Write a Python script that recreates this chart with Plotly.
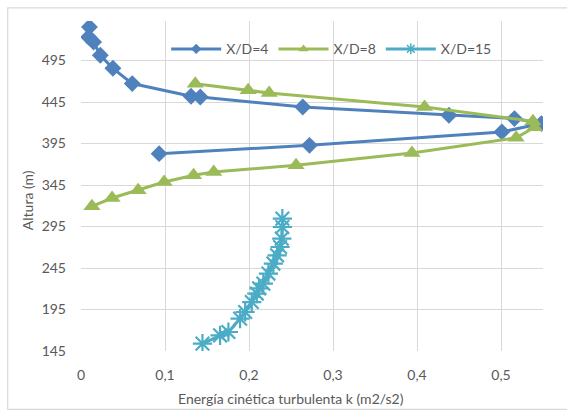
import plotly.graph_objects as go

# ---- data ----
k_xd4 = [0.010, 0.009, 0.015, 0.023, 0.038, 0.061, 0.131, 0.142, 0.264, 0.438,
         0.516, 0.548, 0.501, 0.272, 0.093]
h_xd4 = [535.4, 523.3, 517.3, 501.3, 485.6, 467.2, 451.9, 451.0, 439.0, 429.0,
         425.0, 419.0, 409.0, 392.8, 382.8]

k_xd8 = [0.136, 0.199, 0.224, 0.409, 0.538, 0.540, 0.518, 0.394, 0.256, 0.158,
         0.134, 0.099, 0.068, 0.037, 0.013]
h_xd8 = [467.0, 459.1, 455.8, 439.0, 421.7, 414.5, 401.9, 383.6, 368.7, 360.7,
         356.7, 348.6, 338.6, 329.3, 319.3]

k_xd15 = [0.1446, 0.1656, 0.1755, 0.1894, 0.1954, 0.2033, 0.2093, 0.2120,
          0.2171, 0.2231, 0.2290, 0.2334, 0.2370, 0.2390, 0.2397, 0.2397]
h_xd15 = [153.9, 163.9, 167.9, 184.0, 192.0, 204.0, 214.2, 220.5,
          226.2, 238.3, 250.3, 260.3, 270.3, 280.4, 294.4, 304.5]

series_names = ["X/D=4", "X/D=8", "X/D=15"]
x_ticks = [0, 0.1, 0.2, 0.3, 0.4, 0.5]
y_ticks = [145, 195, 245, 295, 345, 395, 445, 495]
x_title = "Energía cinética turbulenta k (m2/s2)"
y_title = "Altura (m)"

BLUE = "#4f81bd"
GREEN = "#9bbb59"
CYAN = "#4bacc6"
TXT = "#595959"
GRID = "#d9d9d9"
FONT = "Lato"

styles = [
    (k_xd4, h_xd4, BLUE, "diamond", 13, 8, None),
    (k_xd8, h_xd8, GREEN, "triangle-up", 15, 9, None),
    (k_xd15, h_xd15, CYAN, "asterisk-open", 16, 9, 2.2),
]

fig = go.Figure()
for name, (xs, ys, col, sym, sz, lsz, lw) in zip(series_names, styles):
    mk = dict(symbol=sym, size=sz, color=col)
    if lw:
        mk["line"] = dict(color=col, width=lw)
    fig.add_trace(go.Scatter(x=xs, y=ys, name=name, mode="lines+markers",
                             line=dict(color=col, width=3), marker=mk,
                             showlegend=False))
for name, (xs, ys, col, sym, sz, lsz, lw) in zip(series_names, styles):
    mk = dict(symbol=sym, size=lsz, color=col)
    if lw:
        mk["line"] = dict(color=col, width=1.5)
    fig.add_trace(go.Scatter(x=[None], y=[None], name=name, mode="lines+markers",
                             line=dict(color=col, width=3), marker=mk,
                             showlegend=True, hoverinfo="skip"))

W, H = 567, 410
L, R, T, B = 80.7, 543.3, 20.7, 350.7
pw, ph = R - L, B - T

fig.update_layout(
    width=W, height=H,
    margin=dict(l=L, r=W - R, t=T, b=H - B, pad=0),
    paper_bgcolor="white", plot_bgcolor="white",
    separators=",.",
    font=dict(family=FONT, size=14, color=TXT),
    showlegend=True,
    legend=dict(orientation="h", x=(166 - L) / pw, y=(B - 49) / ph,
                xanchor="left", yanchor="middle",
                bgcolor="rgba(0,0,0,0)", font=dict(size=14, color=TXT),
                itemwidth=50, tracegroupgap=0),
    xaxis=dict(range=[0, 0.55], tickvals=x_ticks, showgrid=True,
               gridcolor=GRID, gridwidth=1, zeroline=False, showline=False,
               ticks="", ticklabelstandoff=14, tickfont=dict(size=14, color=TXT)),
    yaxis=dict(range=[145, 542.6], tickvals=y_ticks, showgrid=True,
               gridcolor=GRID, gridwidth=1, zeroline=False, showline=False,
               ticks="", ticklabelstandoff=14, tickfont=dict(size=14, color=TXT)),
    shapes=[dict(type="rect", xref="paper", yref="paper",
                 x0=(7.3 - L) / pw, x1=(575 - L) / pw,
                 y0=(B - 409) / ph, y1=(B - 7.5) / ph,
                 line=dict(color=GRID, width=1.2), fillcolor="rgba(0,0,0,0)",
                 layer="below")],
    annotations=[
        dict(text=x_title, xref="paper", yref="paper",
             x=(291 - L) / pw, y=(B - 398) / ph, showarrow=False,
             xanchor="center", yanchor="middle",
             font=dict(size=14, color=TXT)),
        dict(text=y_title, xref="paper", yref="paper",
             x=(26.5 - L) / pw, y=(B - 200) / ph, showarrow=False,
             textangle=-90, xanchor="center", yanchor="middle",
             font=dict(size=14, color=TXT)),
    ],
)

fig.write_html("out.html",
               config={"displayModeBar": False},
               post_script="document.body.style.margin='0px';"
                           "document.body.style.padding='0px';")
